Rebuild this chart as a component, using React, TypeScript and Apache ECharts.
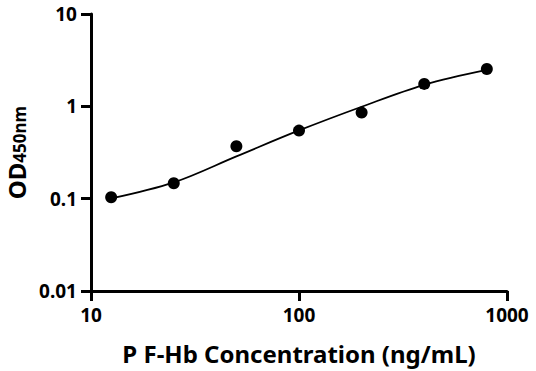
import React, { useEffect, useRef } from "react";
import * as echarts from "echarts";

const concentrations = [12.5, 25, 50, 100, 200, 400, 800];
const odValues = [0.1035, 0.147, 0.37, 0.546, 0.855, 1.75, 2.54];
const curveX = [12.5, 25, 50, 100, 200, 400, 800];
const curveY = [0.1005, 0.15, 0.287, 0.548, 0.99, 1.71, 2.48];

const fmt = (v: number) => String(Number(v.toPrecision(3)));

export default function App() {
  const ref = useRef<HTMLDivElement>(null);
  useEffect(() => {
    if (!ref.current) return;
    const chart = echarts.init(ref.current, null, { renderer: "svg" });
    const font = "Noto Sans";
    chart.setOption({
      animation: false,
      backgroundColor: "#fff",
      grid: { left: 91, right: 29, top: 14, bottom: 80, outerBoundsMode: "none", containLabel: false },
      xAxis: {
        type: "log",
        logBase: 10,
        min: 10,
        max: 1000,
        name: "P F-Hb Concentration (ng/mL)",
        nameLocation: "middle",
        nameGap: 50,
        nameTextStyle: { fontFamily: font, fontWeight: "bold", fontSize: 24, color: "#000" },
        axisLine: { lineStyle: { color: "#000", width: 3 } },
        axisTick: { show: true, length: 10, lineStyle: { color: "#000", width: 3 } },
        minorTick: { show: false },
        splitLine: { show: false },
        axisLabel: { formatter: fmt, fontFamily: font, fontWeight: "bold", fontSize: 19, color: "#000", margin: 14 },
      },
      yAxis: {
        type: "log",
        logBase: 10,
        min: 0.01,
        max: 10,
        name: "{a|OD}{b|450nm}",
        nameLocation: "middle",
        nameGap: 60,
        nameRotate: 90,
        nameTextStyle: {
          rich: {
            a: { fontFamily: font, fontWeight: "bold", fontSize: 24, color: "#000" },
            b: { fontFamily: font, fontWeight: "bold", fontSize: 17, color: "#000", verticalAlign: "bottom", padding: [5, 0, 0, 0] },
          },
        },
        axisLine: { show: true, lineStyle: { color: "#000", width: 3 } },
        axisTick: { show: true, length: 10, lineStyle: { color: "#000", width: 3 } },
        splitLine: { show: false },
        axisLabel: { formatter: fmt, fontFamily: font, fontWeight: "bold", fontSize: 19, color: "#000", margin: 14 },
      },
      series: [
        {
          type: "line",
          data: curveX.map((x, i) => [x, curveY[i]]),
          smooth: 0.35,
          showSymbol: false,
          lineStyle: { color: "#000", width: 1.8 },
          z: 1,
        },
        {
          type: "scatter",
          data: concentrations.map((x, i) => [x, odValues[i]]),
          symbol: "circle",
          symbolSize: 12,
          itemStyle: { color: "#000", opacity: 1 },
          z: 2,
        },
      ],
    });
    return () => chart.dispose();
  }, []);
  return <div ref={ref} style={{ width: 536, height: 371, position: "absolute", left: 0, top: 0 }} />;
}
